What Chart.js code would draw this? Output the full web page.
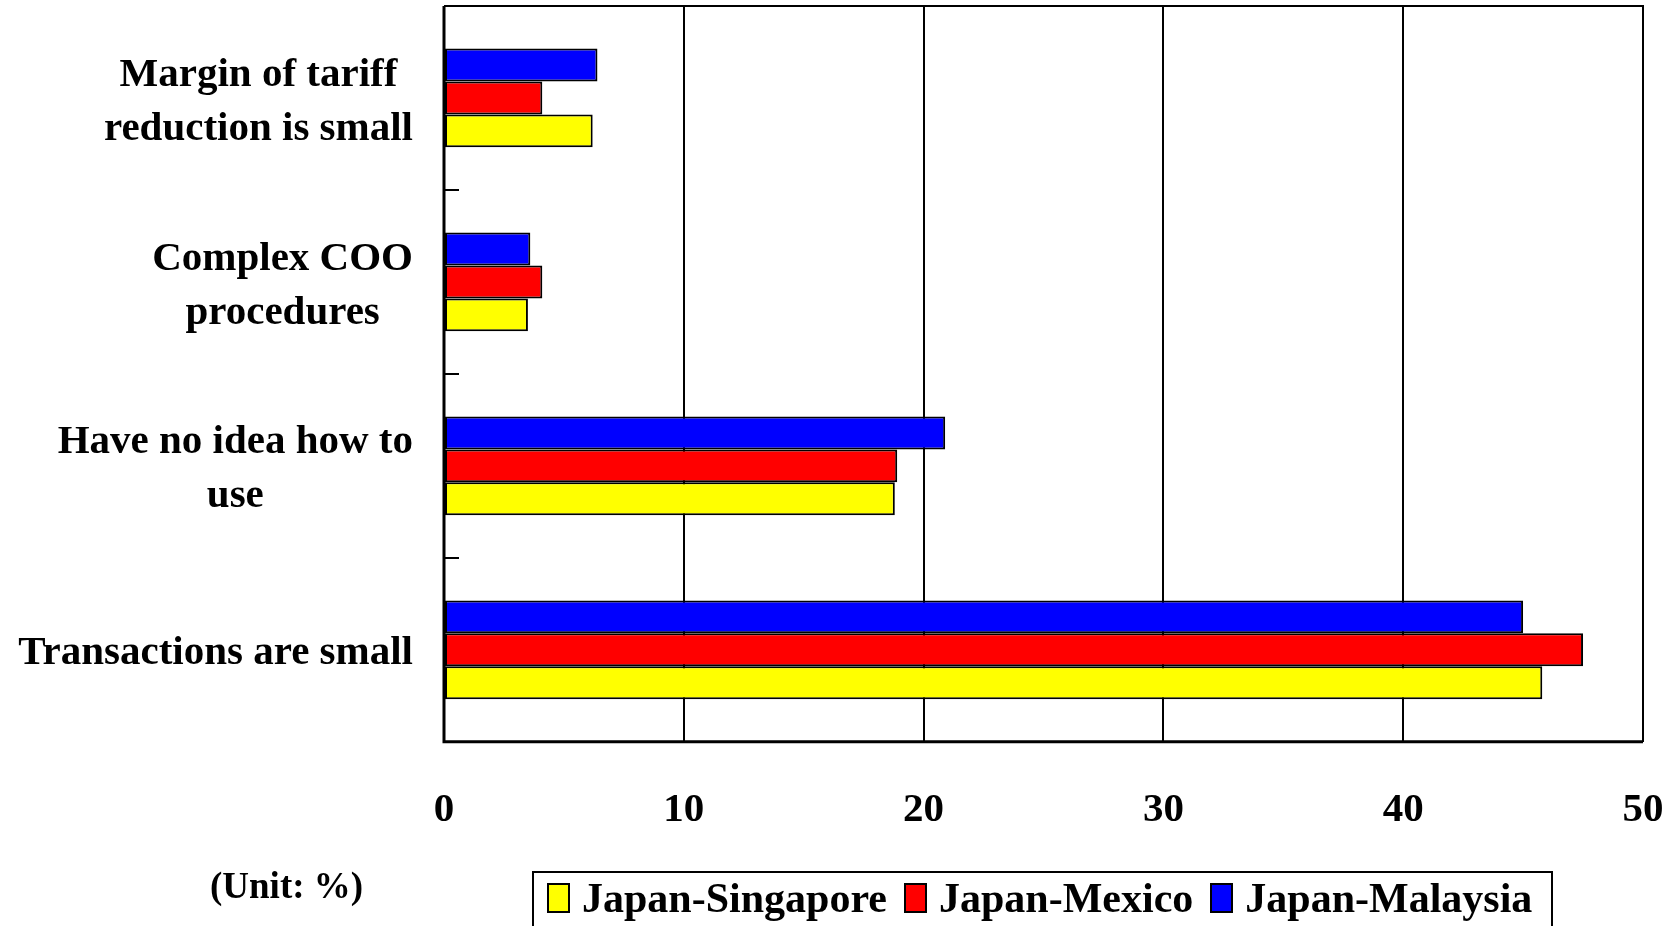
<!DOCTYPE html>
<html>
<head>
<meta charset="utf-8">
<script src="https://cdn.jsdelivr.net/npm/chart.js@4/dist/chart.umd.min.js"></script>
<style>
  body { margin: 0; background: #fff; overflow: hidden; }
  #wrap { position: relative; width: 1677px; height: 926px; }
  #chart { position: absolute; left: 0; top: 0; }
  .serif { font-family: "Liberation Serif", "Times New Roman", serif; font-weight: bold; color: #000; }
  #unit { position: absolute; left: 210px; top: 862px; font-size: 37px; line-height: 48px; }
  #legend { position: absolute; left: 532px; top: 871px; width: 1021px; height: 70px; border: 2px solid #000;
            box-sizing: border-box; display: flex; align-items: flex-start; padding: 5px 0 0 13px;
            white-space: nowrap; overflow: hidden; }
  .item { display: flex; align-items: center; flex-shrink: 0; margin-right: 17px; font-size: 42px; line-height: 40px; }
  .sw { width: 23px; height: 30px; border: 2px solid #000; margin-right: 12px; box-sizing: border-box; flex-shrink: 0; }
</style>
</head>
<body>
<div id="wrap">
  <canvas id="chart" width="1677" height="926"></canvas>
  <div id="unit" class="serif">(Unit: %)</div>
  <div id="legend" class="serif"></div>
</div>
<script>
// categories (top to bottom) and survey shares in %
var categories = [
    ["Margin of tariff", "reduction is small"],
    ["Complex COO", "procedures"],
    ["Have no idea how to", "use"],
    ["Transactions are small"]
];
var singapore = [6.2, 3.5, 18.8, 45.8];
var mexico = [4.1, 4.1, 18.9, 47.5];
var malaysia = [6.4, 3.6, 20.9, 45.0];
var xTicks = [0, 10, 20, 30, 40, 50];

var legendItems = [
    { label: "Japan-Singapore", color: "#FFFF00" },
    { label: "Japan-Mexico", color: "#FF0000" },
    { label: "Japan-Malaysia", color: "#0000FF" }
];

var FONT = '"Liberation Serif", "Times New Roman", serif';

// html legend, same order as the picture
var legendEl = document.getElementById("legend");
legendItems.forEach(function (it) {
    var d = document.createElement("div");
    d.className = "item";
    d.innerHTML = '<span class="sw" style="background:' + it.color + '"></span>' + it.label;
    legendEl.appendChild(d);
});

// draws the frame, the small inner ticks and the centred category labels
var framePlugin = {
    id: "frame",
    afterDatasetsDraw: function (chart) {
        var ctx = chart.ctx;
        var a = chart.chartArea;
        var yScale = chart.scales.y;
        ctx.save();
        ctx.strokeStyle = "#000";
        ctx.lineWidth = 2;
        ctx.beginPath();
        ctx.moveTo(a.left, a.top);
        ctx.lineTo(a.right, a.top);
        ctx.lineTo(a.right, a.bottom);
        ctx.stroke();
        ctx.lineWidth = 3;
        ctx.beginPath();
        ctx.moveTo(a.left, a.top);
        ctx.lineTo(a.left, a.bottom);
        ctx.lineTo(a.right, a.bottom);
        ctx.stroke();

        ctx.lineWidth = 2;
        for (var i = 0; i < categories.length - 1; i++) {
            var ty = Math.round(yScale.getPixelForValue(i + 0.5));
            ctx.beginPath();
            ctx.moveTo(a.left, ty);
            ctx.lineTo(a.left + 15, ty);
            ctx.stroke();
        }

        ctx.fillStyle = "#000";
        ctx.font = "bold 41px " + FONT;
        ctx.textAlign = "center";
        ctx.textBaseline = "middle";
        var rightEdge = a.left - 31;
        categories.forEach(function (lines, i) {
            var cy = yScale.getPixelForValue(i) + 4;
            var w = 0;
            lines.forEach(function (l) { w = Math.max(w, ctx.measureText(l).width); });
            var cx = rightEdge - w / 2;
            lines.forEach(function (l, j) {
                ctx.fillText(l, cx, cy + (j - (lines.length - 1) / 2) * 54);
            });
        });
        ctx.restore();
    }
};

var ctx = document.getElementById("chart").getContext("2d");
var chart = new Chart(ctx, {
    type: "bar",
    data: {
        labels: categories,
        datasets: [
            { label: "Japan-Malaysia", data: malaysia, backgroundColor: "#0000FF" },
            { label: "Japan-Mexico", data: mexico, backgroundColor: "#FF0000" },
            { label: "Japan-Singapore", data: singapore, backgroundColor: "#FFFF00" }
        ]
    },
    options: {
        indexAxis: "y",
        responsive: false,
        animation: false,
        layout: { padding: { left: 444, right: 34, top: 6, bottom: 47 } },
        datasets: {
            bar: {
                borderColor: "#000",
                borderWidth: 2,
                borderSkipped: false,
                categoryPercentage: 0.537,
                barPercentage: 1.0
            }
        },
        scales: {
            x: {
                min: 0,
                max: 50,
                afterBuildTicks: function (scale) {
                    scale.ticks = xTicks.map(function (v) { return { value: v }; });
                },
                afterFit: function (scale) {
                    // let the layout padding alone set the plot edges
                    scale.paddingLeft = 0;
                    scale.paddingRight = 0;
                },
                grid: { color: "#000", lineWidth: 2, drawTicks: false },
                border: { display: false },
                ticks: {
                    padding: 44,
                    color: "#000",
                    font: { family: FONT, size: 41, weight: "bold" }
                }
            },
            y: {
                display: false
            }
        },
        plugins: {
            legend: { display: false },
            tooltip: { enabled: false }
        }
    },
    plugins: [framePlugin]
});
</script>
</body>
</html>
